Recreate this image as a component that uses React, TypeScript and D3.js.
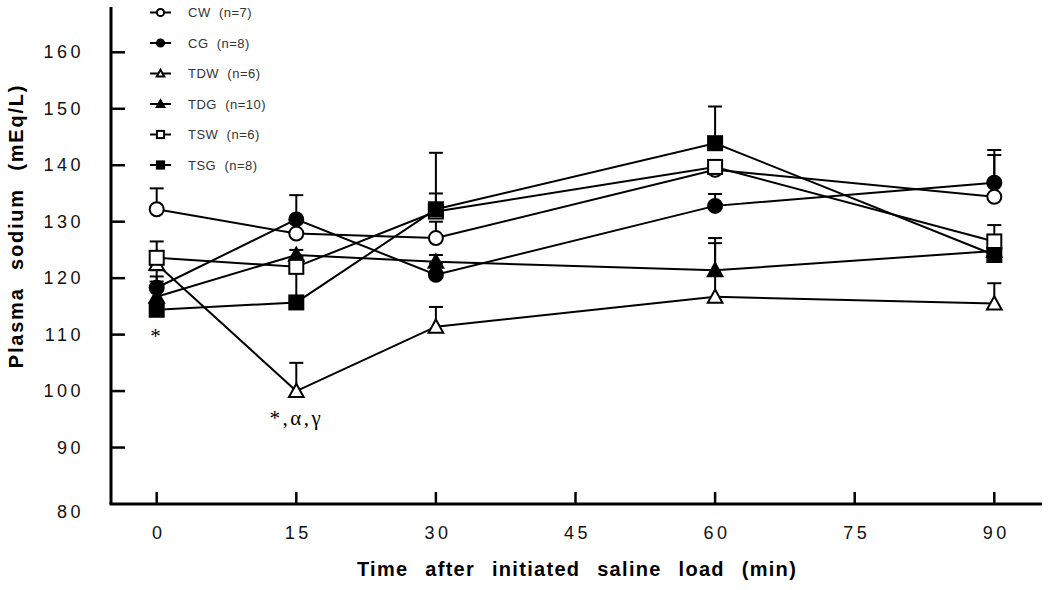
import React from "react";
import * as d3 from "d3";

const times = [0, 15, 30, 60, 90];
const xTicks = [0, 15, 30, 45, 60, 75, 90];
const yTicks = [80, 90, 100, 110, 120, 130, 140, 150, 160];

const seriesNames = ["CW", "CG", "TDW", "TDG", "TSW", "TSG"];
const seriesN = [7, 8, 6, 10, 6, 8];
const seriesShape = ["circle", "circle", "triangle", "triangle", "square", "square"];
const seriesFilled = [false, true, false, true, false, true];

const cwMean = [132.2, 127.9, 127.1, 139.2, 134.4];
const cwSE = [3.7, 2.5, 2.9, 1.0, 7.4];
const cgMean = [118.3, 130.4, 120.6, 132.8, 136.9];
const cgSE = [3.1, 4.3, 2.0, 2.1, 5.8];
const tdwMean = [122.5, 100.0, 111.4, 116.7, 115.5];
const tdwSE = [1.5, 5.0, 3.5, 9.5, 3.6];
const tdgMean = [116.7, 124.1, 122.9, 121.4, 124.8];
const tdgSE = [3.6, 0.9, 1.2, 5.7, 1.0];
const tswMean = [123.6, 122.0, 131.8, 139.7, 126.5];
const tswSE = [2.9, 1.7, 10.4, 1.0, 2.9];
const tsgMean = [114.4, 115.7, 132.2, 143.9, 124.1];
const tsgSE = [5.0, 8.0, 2.8, 6.5, 1.0];

const means = [cwMean, cgMean, tdwMean, tdgMean, tswMean, tsgMean];
const ses = [cwSE, cgSE, tdwSE, tdgSE, tswSE, tsgSE];

const annotations = [
  { t: 0, v: 114.4, text: "*", dy: 26 },
  { t: 15, v: 100.0, text: "*,\u03B1,\u03B3", dy: 27 },
];

function Marker({ shape, filled, x, y, size }: any) {
  const fill = filled ? "#000" : "#fff";
  const sw = 2;
  if (shape === "circle") {
    return <circle cx={x} cy={y} r={size} fill={fill} stroke="#000" strokeWidth={sw} />;
  }
  if (shape === "square") {
    return (
      <rect x={x - size} y={y - size} width={size * 2} height={size * 2} fill={fill} stroke="#000" strokeWidth={sw} />
    );
  }
  const h = size * 1.9;
  const p = `M${x},${y - h * 0.55} L${x + size * 1.05},${y + h * 0.45} L${x - size * 1.05},${y + h * 0.45} Z`;
  return <path d={p} fill={fill} stroke="#000" strokeWidth={sw} />;
}

export default function App() {
  const x = d3.scaleLinear().domain([0, 90]).range([156.7, 994.3]);
  const y = d3.scaleLinear().domain([80, 160]).range([504, 52.3]);
  const line = d3
    .line<number>()
    .x((_, i) => x(times[i]))
    .y((d) => y(d));
  const axisLeft = 111;
  const axisBottom = y(80);

  return (
    <svg
      width={1050}
      height={590}
      style={{ position: "absolute", left: 0, top: 0, background: "#fff" }}
      fontFamily="Arial, 'Liberation Sans', sans-serif"
    >
      <rect width={1050} height={590} fill="#fff" />
      {/* axes */}
      <line x1={axisLeft} y1={7} x2={axisLeft} y2={axisBottom} stroke="#000" strokeWidth={3} />
      <line x1={axisLeft - 1.5} y1={axisBottom} x2={1042} y2={axisBottom} stroke="#000" strokeWidth={3} />
      {yTicks.map((t) => (
        <g key={"yt" + t}>
          {t !== 80 && (
            <line x1={axisLeft} x2={axisLeft + 14} y1={y(t)} y2={y(t)} stroke="#000" strokeWidth={2.5} />
          )}
          <text
            x={84}
            y={y(t) + (t === 80 ? 8 : 0)}
            textAnchor="end"
            dominantBaseline="central"
            fontSize={18}
            letterSpacing={3.5}
            fill="#111"
          >
            {t}
          </text>
        </g>
      ))}
      {xTicks.map((t) => (
        <g key={"xt" + t}>
          <line x1={x(t)} x2={x(t)} y1={axisBottom} y2={axisBottom - 12} stroke="#000" strokeWidth={2.5} />
          <text
            x={x(t) + 2}
            y={533}
            textAnchor="middle"
            dominantBaseline="central"
            fontSize={18}
            letterSpacing={3.5}
            fill="#111"
          >
            {t}
          </text>
        </g>
      ))}
      <text
        x={577}
        y={576}
        textAnchor="middle"
        fontSize={20}
        fontWeight="bold"
        fill="#000"
        letterSpacing={1.3}
        wordSpacing={10}
      >
        Time after initiated saline load (min)
      </text>
      <text
        transform={`translate(23,226) rotate(-90)`}
        textAnchor="middle"
        fontSize={20}
        fontWeight="bold"
        fill="#000"
        letterSpacing={1.8}
        wordSpacing={10}
      >
        Plasma sodium (mEq/L)
      </text>

      {/* lines */}
      {means.map((m, si) => (
        <path key={"l" + si} d={line(m) || ""} fill="none" stroke="#000" strokeWidth={2} />
      ))}
      {/* error bars */}
      {means.map((m, si) =>
        m.map((v, i) => {
          const cx = x(times[i]);
          const top = y(v + ses[si][i]);
          return (
            <g key={"e" + si + "-" + i}>
              <line x1={cx} x2={cx} y1={y(v)} y2={top} stroke="#000" strokeWidth={2} />
              <line x1={cx - 7} x2={cx + 7} y1={top} y2={top} stroke="#000" strokeWidth={2} />
            </g>
          );
        })
      )}
      {/* markers */}
      {means.map((m, si) =>
        m.map((v, i) => (
          <Marker
            key={"m" + si + "-" + i}
            shape={seriesShape[si]}
            filled={seriesFilled[si]}
            x={x(times[i])}
            y={y(v)}
            size={7}
          />
        ))
      )}
      {/* annotations */}
      {annotations.map((a, i) => (
        <text
          key={"a" + i}
          x={x(a.t)}
          y={y(a.v) + a.dy}
          textAnchor="middle"
          dominantBaseline="central"
          fontFamily="'Liberation Serif', 'DejaVu Serif', serif"
          fontSize={21}
          letterSpacing={2.5}
          fill="#000"
        >
          {a.text}
        </text>
      ))}
      {/* legend */}
      {seriesNames.map((name, i) => {
        const ly = 12.5 + i * 30.5;
        return (
          <g key={"lg" + i}>
            <line x1={150} x2={171} y1={ly} y2={ly} stroke="#000" strokeWidth={2} />
            <Marker shape={seriesShape[i]} filled={seriesFilled[i]} x={160.5} y={ly} size={3.6} />
            <text x={188} y={ly} dominantBaseline="central" fontSize={13} fill="#333" letterSpacing={0.5}>
              {name}
              {"\u00A0\u00A0(n=" + seriesN[i] + ")"}
            </text>
          </g>
        );
      })}
    </svg>
  );
}
